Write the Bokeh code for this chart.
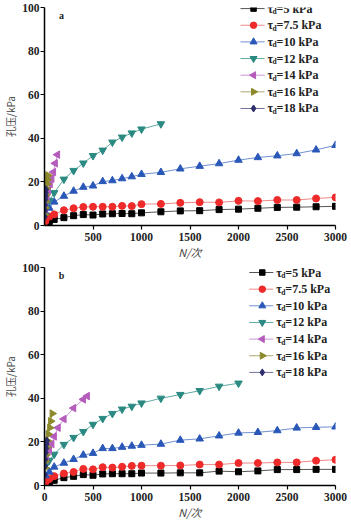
from bokeh.plotting import figure
from bokeh.layouts import column
from bokeh.models import FixedTicker, Range1d
from bokeh.core.properties import value
from bokeh.embed import file_html
from bokeh.resources import INLINE
import math

# ---------------- data ----------------
series_names = ["5", "7.5", "10", "12", "14", "16", "18"]

N_long = [10, 50, 100, 200, 300, 400, 500, 600, 700, 800, 900, 1000, 1200,
          1400, 1600, 1800, 2000, 2200, 2400, 2600, 2800, 3000]

# panel a
a_N12 = [10, 50, 100, 200, 300, 400, 500, 600, 700, 800, 900, 1000, 1200]
a_N14 = [10, 25, 40, 58, 75, 92, 110, 133]
a_N16 = [3, 6, 10, 15, 20, 25, 30, 35]
a_N18 = [2, 4, 6, 8, 10, 12, 15]
a_p5 = [0.6, 1.8, 2.8, 3.6, 4.5, 5.0, 4.8, 5.3, 5.4, 5.5, 5.4, 5.8, 6.3,
        6.7, 6.8, 7.3, 7.5, 7.9, 8.3, 8.4, 8.6, 8.8]
a_p75 = [2.0, 4.1, 5.1, 7.0, 7.9, 8.5, 8.6, 8.6, 8.6, 9.0, 8.9, 9.8, 9.9,
         10.4, 10.7, 10.6, 11.3, 11.2, 11.7, 11.7, 12.4, 12.9]
a_p10 = [6.0, 8.0, 10.8, 13.5, 15.8, 17.6, 18.2, 20.2, 20.6, 21.5, 22.4, 23.5, 24.4,
         26.0, 27.2, 28.4, 30.0, 31.2, 32.0, 33.0, 34.7, 36.8]
a_p12 = [8.0, 11.5, 15.0, 21.2, 25.2, 28.6, 32.0, 34.5, 38.2, 40.5, 42.4, 44.2, 46.6]
a_p14 = [8.0, 12.0, 16.0, 19.0, 21.5, 24.5, 28.5, 32.5]
a_p16 = [5.0, 8.0, 11.0, 14.0, 17.0, 19.0, 21.0, 23.0]
a_p18 = [4.0, 7.0, 9.5, 12.0, 13.5, 15.0, 16.5]

# panel b
b_N12 = [10, 50, 100, 200, 300, 400, 500, 600, 700, 800, 900, 1000, 1200,
         1400, 1600, 1800, 2000]
b_N14 = [20, 50, 75, 100, 140, 200, 300, 400, 440]
b_N16 = [5, 10, 15, 25, 30, 40, 55, 65, 80]
b_N18 = [2, 5, 8, 12, 16, 20, 25]
b_p5 = [0.5, 1.5, 2.4, 3.6, 4.2, 5.0, 4.7, 5.3, 5.4, 5.4, 5.4, 5.7, 5.7,
        5.8, 5.8, 6.6, 6.3, 6.7, 7.3, 7.3, 7.4, 7.4]
b_p75 = [1.5, 3.0, 4.3, 5.5, 6.2, 7.6, 7.4, 8.4, 8.2, 8.6, 9.0, 9.1, 9.1,
         9.2, 9.6, 9.6, 10.3, 10.3, 10.6, 10.6, 11.4, 11.8]
b_p10 = [4.5, 6.2, 8.5, 10.3, 12.0, 14.0, 14.8, 17.0, 17.0, 17.6, 18.1, 18.5, 19.0,
         20.8, 21.4, 22.8, 24.1, 24.4, 25.2, 26.4, 26.7, 26.9]
b_p12 = [9.0, 11.5, 14.3, 18.8, 22.0, 24.7, 28.0, 30.7, 33.0, 35.0, 36.3, 37.8, 40.0,
         41.7, 43.5, 45.5, 46.9]
b_p14 = [12.0, 16.0, 19.0, 22.5, 26.5, 30.5, 35.5, 39.5, 41.0]
b_p16 = [8.0, 11.0, 14.0, 17.5, 20.5, 23.5, 26.5, 29.5, 33.0]
b_p18 = [5.0, 9.0, 12.0, 15.0, 17.0, 19.0, 20.5]

y_ticks = [0, 20, 40, 60, 80, 100]
x_ticks_a = [500, 1000, 1500, 2000, 2500, 3000]
x_ticks_b = [0, 500, 1000, 1500, 2000, 2500, 3000]

# ---------------- styles ----------------
colors = ["#000000", "#ee2a2a", "#2a58b8", "#2a8a82", "#b55cbd", "#8c8a2c", "#2e2e6e"]
line_colors = ["#555555", "#f08888", "#7090d0", "#60aaa2", "#c898d4", "#aaa870", "#70709e"]
markers = ["square", "circle", "triangle", "inverted_triangle", "triangle", "triangle", "diamond"]
angles = [0, 0, 0, 0, math.pi / 2, -math.pi / 2, 0]
sizes = [6, 7, 7.5, 7.5, 7.5, 7.5, 7.5]

SERIF = "Liberation Serif"
PX_X = 3000 / 290.0
PX_Y = 100 / 220.0


def make_panel(letter, data, xticks, height, top_border, legend_x, legend_top):
    p = figure(width=351, height=height, output_backend="svg", toolbar_location=None,
               x_range=Range1d(0, 3000), y_range=Range1d(0, 100),
               min_border_left=41, min_border_right=16,
               min_border_top=top_border, min_border_bottom=35)
    p.outline_line_color = None
    p.grid.visible = False
    p.background_fill_color = "white"
    p.border_fill_color = "white"

    for i, (xs, ys) in enumerate(data):
        p.line(xs, ys, line_color=line_colors[i], line_width=1)
        p.scatter(xs, ys, marker=markers[i], angle=angles[i], size=sizes[i],
                  fill_color=colors[i], line_color=colors[i])

    # axes
    for ax in (p.xaxis[0], p.yaxis[0]):
        ax.axis_line_color = "black"
        ax.axis_line_width = 1.5
        ax.major_tick_line_color = "black"
        ax.major_tick_line_width = 1.2
        ax.major_tick_in = 0
        ax.major_tick_out = 4
        ax.minor_tick_line_color = None
        ax.major_label_text_font = SERIF
        ax.major_label_text_font_style = "bold"
        ax.major_label_text_font_size = "11.5px"
        ax.major_label_text_color = "#222222"
    p.xaxis.ticker = FixedTicker(ticks=xticks)
    p.yaxis.ticker = FixedTicker(ticks=y_ticks)
    p.xaxis.major_label_standoff = 3
    p.yaxis.major_label_standoff = 1
    p.xaxis.axis_label = "N/次"
    p.xaxis.axis_label_text_font = "Noto Sans CJK SC"
    p.xaxis.axis_label_text_font_style = "italic"
    p.xaxis.axis_label_text_font_size = "11px"
    p.xaxis.axis_label_standoff = 0
    p.yaxis.axis_label = "孔压/kPa"
    p.yaxis.axis_label_text_font = "Noto Sans CJK SC"
    p.yaxis.axis_label_text_font_style = "normal"
    p.yaxis.axis_label_text_font_size = "10px"
    p.yaxis.axis_label_standoff = 1

    # panel letter
    p.text(x=[175], y=[96.5], text=[letter], text_font=value(SERIF), text_font_style="bold",
           text_font_size="10px", text_align="center", text_baseline="middle", text_color="#222222")

    # manual legend (layout in pixels converted to data units)
    row_h = 16.8
    for i, name in enumerate(series_names):
        yy = legend_top - i * row_h * PX_Y
        x0 = legend_x - 27 * PX_X
        x1 = legend_x - 3 * PX_X
        xm = legend_x - 14 * PX_X
        p.line([x0, x1], [yy, yy], line_color=line_colors[i], line_width=1)
        p.scatter([xm], [yy], marker=markers[i], angle=angles[i], size=sizes[i] - 0.5,
                  fill_color=colors[i], line_color=colors[i])
        p.text(x=[legend_x], y=[yy], text=["τ"], text_font=value(SERIF), text_font_style="bold",
               text_font_size="12px", text_baseline="middle", text_color="#222222")
        p.text(x=[legend_x], y=[yy], text=["d"], x_offset=5, y_offset=3,
               text_font=value(SERIF), text_font_size="7.5px", text_font_style="bold",
               text_baseline="middle", text_color="#222222")
        p.text(x=[legend_x], y=[yy], text=["=" + name + " kPa"], x_offset=9,
               text_font=value(SERIF), text_font_style="bold", text_font_size="12px",
               text_baseline="middle", text_color="#222222")
    return p


data_a = [(N_long, a_p5), (N_long, a_p75), (N_long, a_p10), (a_N12, a_p12),
          (a_N14, a_p14), (a_N16, a_p16), (a_N18, a_p18)]
data_b = [(N_long, b_p5), (N_long, b_p75), (N_long, b_p10), (b_N12, b_p12),
          (b_N14, b_p14), (b_N16, b_p16), (b_N18, b_p18)]

pa = make_panel("a", data_a, x_ticks_a, 262, 7, 2300, 99.5)
pb = make_panel("b", data_b, x_ticks_b, 260, 5, 2390, 97.7)

layout = column(pa, pb, spacing=0)
open("out.html", "w").write(file_html(layout, INLINE))
